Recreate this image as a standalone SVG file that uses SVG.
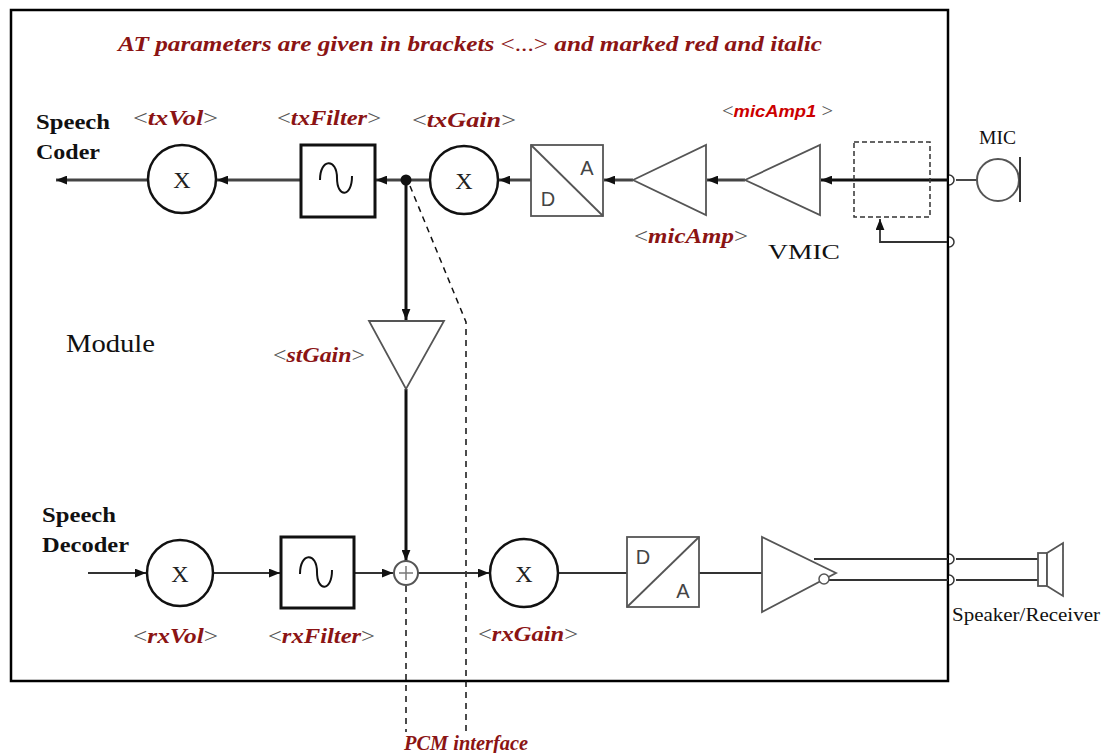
<svg xmlns="http://www.w3.org/2000/svg" width="1104" height="753" viewBox="0 0 1104 753">
<defs>
<style>
.lbl{font-family:"Liberation Serif",serif;font-weight:bold;font-style:italic;fill:#8b1414;font-size:20px;}
.br{font-weight:normal;font-style:normal;fill:#555;}
.blk{font-family:"Liberation Serif",serif;font-weight:bold;fill:#111;font-size:22px;}
.reg{font-family:"Liberation Serif",serif;fill:#111;}
.da{font-family:"Liberation Sans",Arial,sans-serif;fill:#444;font-size:20px;}
.x{font-family:"Liberation Serif",serif;fill:#222;font-size:24px;}
.circ{fill:#fff;stroke:#111;stroke-width:2.5;}
.box{fill:#fff;stroke:#111;stroke-width:3;}
.gbox{fill:#fff;stroke:#555;stroke-width:1.8;}
.tri{fill:#fff;stroke:#555;stroke-width:1.8;}
.txl{stroke:#444;stroke-width:3;fill:none;}
.thick{stroke:#111;stroke-width:3;fill:none;}
.rxl{stroke:#333;stroke-width:1.8;fill:none;}
.dash{stroke:#111;stroke-width:1.5;stroke-dasharray:6 5;fill:none;}
</style>
<marker id="arr" viewBox="0 0 10 8" refX="10" refY="4" markerWidth="11" markerHeight="9" orient="auto" markerUnits="userSpaceOnUse"><path d="M0,0 L10,4 L0,8 z" fill="#111"/></marker>
</defs>
<rect width="1104" height="753" fill="#fff"/>
<rect id="module-frame" x="11" y="10" width="937" height="671" fill="none" stroke="#000" stroke-width="2.5"/>

<text class="lbl" x="118" y="51" font-size="23" textLength="704" lengthAdjust="spacingAndGlyphs">AT parameters are given in brackets <tspan class="br" style="fill:#8b1414">&lt;...&gt;</tspan> and marked red and italic</text>

<g id="connectors">
  <line class="txl" x1="148" y1="180" x2="56" y2="180" marker-end="url(#arr)"/>
  <line class="txl" x1="301" y1="180" x2="217" y2="180" marker-end="url(#arr)"/>
  <line class="txl" x1="406" y1="180" x2="376" y2="180" marker-end="url(#arr)"/>
  <line class="txl" x1="430" y1="180" x2="406" y2="180"/>
  <line class="txl" x1="531" y1="180" x2="499" y2="180" marker-end="url(#arr)"/>
  <line class="txl" x1="633" y1="180" x2="604" y2="180" marker-end="url(#arr)"/>
  <line class="txl" x1="745" y1="180" x2="707" y2="180" marker-end="url(#arr)"/>
  <line class="thick" x1="948" y1="180" x2="821" y2="180" marker-end="url(#arr)"/>
  <polyline class="rxl" points="947,242 880,242 880,219" marker-end="url(#arr)"/>
  <line class="rxl" x1="956" y1="180" x2="977" y2="180"/>
  <line class="thick" x1="406" y1="185" x2="406" y2="320" marker-end="url(#arr)"/>
  <line class="thick" x1="406" y1="389" x2="406" y2="561" marker-end="url(#arr)"/>
  <path class="dash" d="M410,186 L466,322 L466,732"/>
  <line class="dash" x1="406" y1="586" x2="406" y2="732"/>
  <line class="rxl" x1="88" y1="573" x2="146" y2="573" marker-end="url(#arr)"/>
  <line class="rxl" x1="214" y1="573" x2="280" y2="573" marker-end="url(#arr)"/>
  <line class="rxl" x1="354" y1="573" x2="393" y2="573" marker-end="url(#arr)"/>
  <line class="rxl" x1="418" y1="573" x2="489" y2="573" marker-end="url(#arr)"/>
  <line class="rxl" x1="558" y1="573" x2="627" y2="573"/>
  <line class="rxl" x1="699" y1="573" x2="762" y2="573"/>
  <line class="rxl" x1="814" y1="559" x2="948" y2="559"/>
  <line class="rxl" x1="829" y1="580" x2="948" y2="580"/>
  <line class="rxl" x1="956" y1="559" x2="1038" y2="559"/>
  <line class="rxl" x1="956" y1="580" x2="1038" y2="580"/>
</g>

<g id="speech-coder"><text class="blk" x="36" y="129" textLength="74" lengthAdjust="spacingAndGlyphs">Speech</text><text class="blk" x="36" y="159" textLength="64" lengthAdjust="spacingAndGlyphs">Coder</text></g>
<g id="txVol"><circle class="circ" cx="182" cy="179" r="34"/><text class="x" x="182" y="188" text-anchor="middle">X</text><text class="lbl" x="133" y="125" textLength="85" lengthAdjust="spacingAndGlyphs"><tspan class="br">&lt;</tspan>txVol<tspan class="br">&gt;</tspan></text></g>
<g id="txFilter"><rect class="box" x="301" y="145" width="74" height="72"/><path d="M320,180 C320,158 337,158 337,178 C337,198 352,198 352,176" fill="none" stroke="#111" stroke-width="2"/><text class="lbl" x="277" y="125" textLength="104" lengthAdjust="spacingAndGlyphs"><tspan class="br">&lt;</tspan>txFilter<tspan class="br">&gt;</tspan></text></g>
<g id="junction"><circle cx="406" cy="180" r="5.5" fill="#111"/></g>
<g id="txGain"><circle class="circ" cx="464" cy="180" r="34"/><text class="x" x="464" y="189" text-anchor="middle">X</text><text class="lbl" x="412" y="127" textLength="104" lengthAdjust="spacingAndGlyphs"><tspan class="br">&lt;</tspan>txGain<tspan class="br">&gt;</tspan></text></g>
<g id="txAD"><rect class="gbox" x="531" y="145" width="72" height="71"/><line x1="531" y1="145" x2="603" y2="216" stroke="#555" stroke-width="1.8"/><text class="da" x="587" y="175" text-anchor="middle">A</text><text class="da" x="548" y="206" text-anchor="middle">D</text></g>
<g id="micAmp"><polygon class="tri" points="633,180 706,145 706,215"/><text class="lbl" x="634" y="243" textLength="114" lengthAdjust="spacingAndGlyphs"><tspan class="br">&lt;</tspan>micAmp<tspan class="br">&gt;</tspan></text></g>
<g id="micAmp1"><polygon class="tri" points="745,180 820,145 820,215"/><text x="722" y="117" textLength="111" lengthAdjust="spacingAndGlyphs" style="font-family:'Liberation Sans',Arial,sans-serif;font-size:17px;"><tspan style="font-family:'Liberation Serif',serif;fill:#555;font-size:19px">&lt;</tspan><tspan style="font-weight:bold;font-style:italic;fill:#cc0000">micAmp1</tspan><tspan style="font-family:'Liberation Serif',serif;fill:#555;font-size:19px"> &gt;</tspan></text></g>
<g id="vmic"><rect x="854" y="142" width="76" height="75" fill="none" stroke="#333" stroke-width="1.5" stroke-dasharray="5 3"/><text class="reg" x="768" y="259" font-size="22" textLength="72" lengthAdjust="spacingAndGlyphs">VMIC</text></g>
<g id="mic"><path d="M949,175 a5,5 0 0 1 0,10" fill="#fff" stroke="#333" stroke-width="1.5"/><path d="M949,237 a5,5 0 0 1 0,10" fill="#fff" stroke="#333" stroke-width="1.5"/><circle cx="998" cy="180" r="21" fill="#fff" stroke="#555" stroke-width="2"/><line x1="1020" y1="157" x2="1020" y2="202" stroke="#333" stroke-width="2"/><text class="reg" x="979" y="144" font-size="18" textLength="37" lengthAdjust="spacingAndGlyphs">MIC</text></g>
<g id="stGain"><polygon class="tri" points="369,321 444,321 406,389"/><text class="lbl" x="273" y="362" textLength="92" lengthAdjust="spacingAndGlyphs"><tspan class="br">&lt;</tspan>stGain<tspan class="br">&gt;</tspan></text></g>
<g id="module-label"><text class="reg" x="66" y="352" font-size="25" textLength="89" lengthAdjust="spacingAndGlyphs">Module</text></g>
<g id="speech-decoder"><text class="blk" x="42" y="522" textLength="74" lengthAdjust="spacingAndGlyphs">Speech</text><text class="blk" x="42" y="552" textLength="87" lengthAdjust="spacingAndGlyphs">Decoder</text></g>
<g id="rxVol"><circle class="circ" cx="180" cy="573" r="33"/><text class="x" x="180" y="582" text-anchor="middle">X</text><text class="lbl" x="133" y="643" textLength="85" lengthAdjust="spacingAndGlyphs"><tspan class="br">&lt;</tspan>rxVol<tspan class="br">&gt;</tspan></text></g>
<g id="rxFilter"><rect class="box" x="281" y="537" width="73" height="71"/><path d="M300,574 C300,552 317,552 317,572 C317,592 332,592 332,570" fill="none" stroke="#111" stroke-width="2"/><text class="lbl" x="268" y="643" textLength="107" lengthAdjust="spacingAndGlyphs"><tspan class="br">&lt;</tspan>rxFilter<tspan class="br">&gt;</tspan></text></g>
<g id="sum"><circle cx="406" cy="573" r="12" fill="#fff" stroke="#555" stroke-width="2"/><line x1="399" y1="573" x2="413" y2="573" stroke="#777" stroke-width="1.5"/><line x1="406" y1="566" x2="406" y2="580" stroke="#777" stroke-width="1.5"/></g>
<g id="rxGain"><circle class="circ" cx="524" cy="573" r="34"/><text class="x" x="524" y="582" text-anchor="middle">X</text><text class="lbl" x="478" y="641" textLength="100" lengthAdjust="spacingAndGlyphs"><tspan class="br">&lt;</tspan>rxGain<tspan class="br">&gt;</tspan></text></g>
<g id="rxDA"><rect class="gbox" x="627" y="537" width="72" height="70"/><line x1="627" y1="607" x2="699" y2="537" stroke="#555" stroke-width="1.8"/><text class="da" x="643" y="564" text-anchor="middle">D</text><text class="da" x="683" y="598" text-anchor="middle">A</text></g>
<g id="rxAmp"><polygon class="tri" points="762,537 762,612 836,573"/><circle cx="824" cy="579" r="5" fill="#fff" stroke="#555" stroke-width="1.5"/></g>
<g id="speaker"><path d="M949,554 a5,5 0 0 1 0,10" fill="#fff" stroke="#333" stroke-width="1.5"/><path d="M949,575 a5,5 0 0 1 0,10" fill="#fff" stroke="#333" stroke-width="1.5"/><rect x="1038" y="553" width="9" height="33" fill="#fff" stroke="#555" stroke-width="1.8"/><polygon points="1047,553 1063,543 1063,596 1047,586" fill="#fff" stroke="#555" stroke-width="1.8"/><text class="reg" x="952" y="621" font-size="18" textLength="148" lengthAdjust="spacingAndGlyphs">Speaker/Receiver</text></g>
<g id="pcm"><text class="lbl" x="404" y="750" font-size="18" textLength="124" lengthAdjust="spacingAndGlyphs">PCM interface</text></g>
</svg>
